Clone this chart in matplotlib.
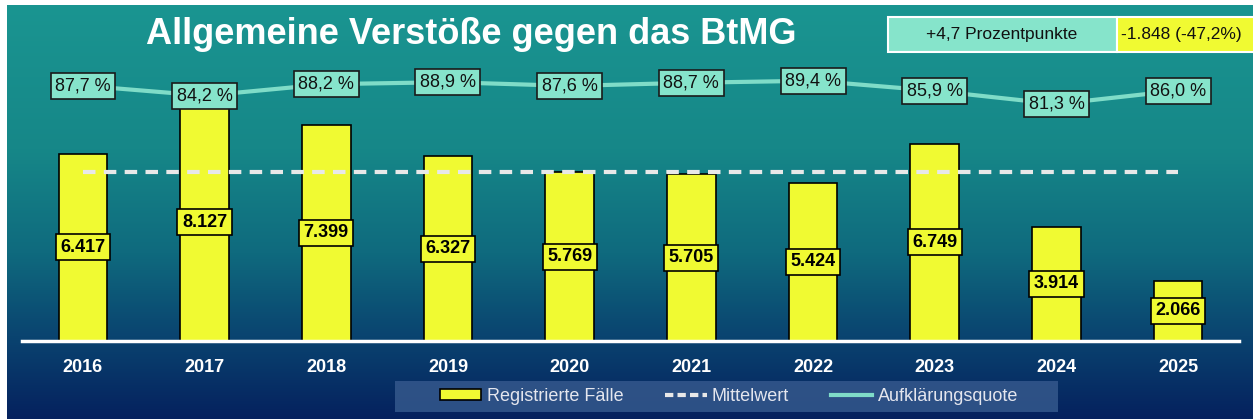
import matplotlib.pyplot as plt
import numpy as np
from matplotlib.colors import LinearSegmentedColormap
from matplotlib.patches import Patch, Rectangle
from matplotlib.lines import Line2D

plt.rcParams['font.family'] = ['Liberation Sans', 'DejaVu Sans']

# Daten
jahre = ["2016", "2017", "2018", "2019", "2020", "2021", "2022", "2023", "2024", "2025"]
faelle = [6417, 8127, 7399, 6327, 5769, 5705, 5424, 6749, 3914, 2066]
quote = [87.7, 84.2, 88.2, 88.9, 87.6, 88.7, 89.4, 85.9, 81.3, 86.0]

GELB = '#f0fa32'
MINT = '#86e4cb'
LINIE = '#7fdcc8'

W, H = 1253, 419
fig = plt.figure(figsize=(W / 100, H / 100), dpi=100, facecolor='white')

# Hintergrund mit Verlauf
bg = fig.add_axes([7 / W, 0, 1 - 7 / W, 1 - 5 / H], zorder=-2)
verlauf = LinearSegmentedColormap.from_list(
    'bg', [(0, '#1a9591'), (0.35, '#168788'), (0.6, '#0f6a7e'),
           (0.8, '#0a4470'), (1.0, '#05215e')])
bg.imshow(np.linspace(0, 1, 256).reshape(-1, 1), aspect='auto', cmap=verlauf,
          extent=[0, 1, 0, 1], origin='upper')
bg.set_axis_off()

ax = fig.add_axes([22 / W, 78 / H, 1217 / W, 281 / H])
ax.patch.set_alpha(0)
x = np.arange(len(jahre))

ax.bar(x, faelle, width=0.4, color=GELB, edgecolor='black', linewidth=1.2, zorder=2)
mittel = np.mean(faelle)
ax.plot([x[0], x[-1]], [mittel, mittel], color='#e8e8e8', lw=3,
        dashes=(3, 2), zorder=3)
for xi, v in zip(x, faelle):
    ax.text(xi, v / 2, f"{v:,}".replace(",", "."), ha='center', va='center',
            fontsize=13, fontweight='bold', color='black', zorder=4,
            bbox=dict(boxstyle='square,pad=0.25', fc=GELB, ec='black', lw=1.2))

ax.set_xlim(-0.5, len(jahre) - 0.5)
ax.set_ylim(0, 9617)
ax.set_yticks([])
ax.set_xticks(x)
ax.set_xticklabels(jahre, fontsize=13, fontweight='bold', color='white')
ax.tick_params(axis='x', length=0, pad=13)
for s in ['top', 'left', 'right']:
    ax.spines[s].set_visible(False)
ax.spines['bottom'].set_color('white')
ax.spines['bottom'].set_linewidth(2.5)

# Aufklärungsquote
ax2 = ax.twinx()
ax2.plot(x, quote, color=LINIE, lw=3, zorder=2)
for xi, q in zip(x, quote):
    ax2.text(xi, q, f"{q:.1f} %".replace(".", ","), ha='center', va='center',
             fontsize=13, color='#111111', zorder=4,
             bbox=dict(boxstyle='square,pad=0.25', fc=MINT, ec='#1a1a1a', lw=1.2))
ax2.set_ylim(-1.0, 96.6)
ax2.set_yticks([])
for s in ax2.spines.values():
    s.set_visible(False)

# Titel
fig.text(471.5 / W, 1 - 34 / H, "Allgemeine Verstöße gegen das BtMG",
         ha='center', va='center', fontsize=26, fontweight='bold', color='white')

# Veränderung gegenüber Vorjahr
diff_q = quote[-1] - quote[-2]
diff_f = faelle[-1] - faelle[-2]
diff_p = diff_f / faelle[-2] * 100
fig.patches.append(Rectangle((888 / W, 1 - 52 / H), 229 / W, 35 / H,
                             transform=fig.transFigure, fc=MINT, ec='white', lw=1.5))
fig.patches.append(Rectangle((1117 / W, 1 - 52 / H), 140 / W, 35 / H,
                             transform=fig.transFigure, fc=GELB, ec='white', lw=1.5))
fig.text(1002 / W, 1 - 34 / H, f"{diff_q:+.1f} Prozentpunkte".replace(".", ","),
         ha='center', va='center', fontsize=12.5, color='#111111')
fig.text(1181 / W, 1 - 34 / H,
         f"{diff_f:,}".replace(",", ".") + f" ({diff_p:.1f}%)".replace(".", ","),
         ha='center', va='center', fontsize=12.5, color='#111111')

# Legende
fig.patches.append(Rectangle((395 / W, 1 - 412 / H), 663 / W, 31 / H,
                             transform=fig.transFigure, fc='#34588c', ec='none',
                             alpha=0.85, zorder=-1))
handles = [Patch(fc=GELB, ec='black', lw=1.2, label='Registrierte Fälle'),
           Line2D([], [], color='#e8e8e8', lw=3, dashes=(2, 1), label='Mittelwert'),
           Line2D([], [], color=LINIE, lw=3, label='Aufklärungsquote')]
leg = ax.legend(handles=handles, loc='center', ncol=3,
                bbox_to_anchor=(729 / W, 1 - 396.5 / H),
                bbox_transform=fig.transFigure, frameon=False,
                labelcolor='#e4e6ee', fontsize=13, handlelength=2.3,
                handleheight=0.5, handletextpad=0.3, columnspacing=2.3)

fig.savefig('out.png', dpi=100, facecolor='white')
